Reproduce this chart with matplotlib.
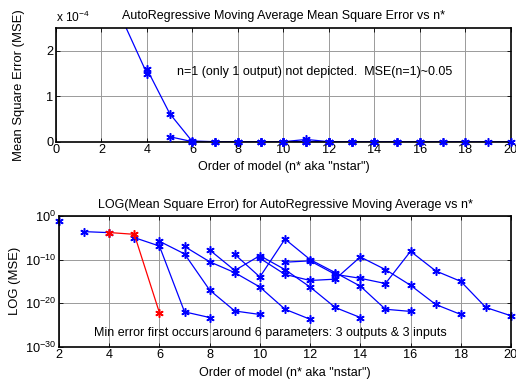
import numpy as np
import matplotlib
matplotlib.use("Agg")
import matplotlib.pyplot as plt

plt.rcParams["font.family"] = ["Liberation Sans", "DejaVu Sans"]
plt.rcParams["mathtext.fontset"] = "custom"
plt.rcParams["mathtext.rm"] = "Liberation Sans"
plt.rcParams["mathtext.default"] = "regular"
plt.rcParams["font.size"] = 9.2

# log10(MSE), one list per number of outputs n.
# Order of model n* runs from n+1 to 2n for each n.
order_n1 = [2]
log_mse_n1 = [-1.2]
order_n2 = [3, 4]
log_mse_n2 = [-3.585, -3.824]
order_n3 = [4, 5, 6]
log_mse_n3 = [-3.796, -4.208, -22.2]
order_n4 = [5, 6, 7, 8]
log_mse_n4 = [-4.96, -6.9, -22.0, -23.3]
order_n5 = [6, 7, 8, 9, 10]
log_mse_n5 = [-5.8, -8.7, -17.0, -21.8, -22.6]
order_n6 = [7, 8, 9, 10, 11, 12]
log_mse_n6 = [-7.0, -10.5, -13.0, -16.3, -21.4, -23.7]
order_n7 = [8, 9, 10, 11, 12, 13, 14]
log_mse_n7 = [-7.8, -12.5, -9.1, -12.3, -16.3, -21.0, -23.3]
order_n8 = [9, 10, 11, 12, 13, 14, 15, 16]
log_mse_n8 = [-8.8, -14.0, -5.3, -10.0, -13.0, -16.1, -21.4, -21.9]
order_n9 = [10, 11, 12, 13, 14, 15, 16, 17, 18]
log_mse_n9 = [-9.7, -13.4, -14.8, -14.5, -9.4, -12.3, -15.9, -20.3, -22.6]
order_n10 = [11, 12, 13, 14, 15, 16, 17, 18, 19, 20]
log_mse_n10 = [-10.6, -10.3, -13.4, -14.3, -15.5, -8.1, -12.6, -15.0, -21.0, -22.9]

series = [
    (1, order_n1, log_mse_n1),
    (2, order_n2, log_mse_n2),
    (3, order_n3, log_mse_n3),
    (4, order_n4, log_mse_n4),
    (5, order_n5, log_mse_n5),
    (6, order_n6, log_mse_n6),
    (7, order_n7, log_mse_n7),
    (8, order_n8, log_mse_n8),
    (9, order_n9, log_mse_n9),
    (10, order_n10, log_mse_n10),
]
best_n = 3

BLUE = "#0000ff"
RED = "#ff0000"
ASTERISK = (6, 2, 0)
X_LABEL = 'Order of model (n* aka "nstar")'
TITLE_SIZE = 9.0
LABEL_SIZE = 9.0
NOTE_SIZE = 9.0


def style_axes(ax):
    ax.grid(True, color="#9a9a9a", linewidth=0.7)
    ax.set_axisbelow(True)
    ax.tick_params(direction="in", top=True, right=True, length=3, width=0.6, pad=2)
    for spine in ax.spines.values():
        spine.set_linewidth(1.2)


fig = plt.figure(figsize=(5.16, 3.79), dpi=100)

# --- linear MSE, n=1 left out ---
ax1 = fig.add_axes([0.1085, 0.6261, 0.8818, 0.2992])
y_top = 2.5
for n, order, log_mse in series:
    if n == 1:
        continue
    vals = np.power(10.0, log_mse) * 1e4
    ax1.plot(order, vals, "-", color=BLUE, linewidth=0.9)
    inside = vals <= y_top
    ax1.plot(np.array(order)[inside], vals[inside], linestyle="none",
             marker=ASTERISK, markersize=6, markeredgewidth=1.1,
             color=BLUE, clip_on=False, zorder=3)
ax1.set_xlim(0, 20)
ax1.set_ylim(0, y_top)
ax1.set_xticks(range(0, 21, 2))
ax1.set_yticks([0, 1, 2])
style_axes(ax1)
ax1.set_title("AutoRegressive Moving Average Mean Square Error vs n*",
              fontsize=TITLE_SIZE, pad=7)
ax1.set_ylabel("Mean Square Error (MSE)", fontsize=9.4, labelpad=15)
ax1.set_xlabel(X_LABEL, fontsize=LABEL_SIZE, labelpad=3)
ax1.text(0, 1.03, r"x 10$^{-4}$", transform=ax1.transAxes, ha="left", va="bottom",
         fontsize=8.6)
ax1.text(5.3, 1.53, "n=1 (only 1 output) not depicted.  MSE(n=1)~0.05",
         ha="left", va="center", fontsize=NOTE_SIZE)

# --- log MSE ---
ax2 = fig.add_axes([0.1143, 0.0852, 0.876, 0.3449])
for n, order, log_mse in series:
    colour = RED if n == best_n else BLUE
    ax2.semilogy(order, np.power(10.0, log_mse), "-", color=colour,
                 linewidth=0.9, marker=ASTERISK, markersize=6,
                 markeredgewidth=1.1, clip_on=False, zorder=3 if n == best_n else 2)
ax2.set_xlim(2, 20)
ax2.set_ylim(1e-30, 1)
ax2.set_xticks(range(2, 21, 2))
ax2.set_yticks([1e-30, 1e-20, 1e-10, 1])
ax2.set_yticklabels([r"10$^{-30}$", r"10$^{-20}$", r"10$^{-10}$", r"10$^{0}$"])
ax2.yaxis.set_minor_locator(matplotlib.ticker.NullLocator())
style_axes(ax2)
ax2.set_title("LOG(Mean Square Error) for AutoRegressive Moving Average vs n*",
              fontsize=TITLE_SIZE, pad=6)
ax2.set_ylabel("LOG (MSE)", fontsize=9.4, labelpad=3)
ax2.set_xlabel(X_LABEL, fontsize=LABEL_SIZE, labelpad=4)
ax2.text(3.39, 10 ** -26.8,
         "Min error first occurs around 6 parameters: 3 outputs & 3 inputs",
         ha="left", va="center", fontsize=NOTE_SIZE)

fig.savefig("out.png", dpi=100)
